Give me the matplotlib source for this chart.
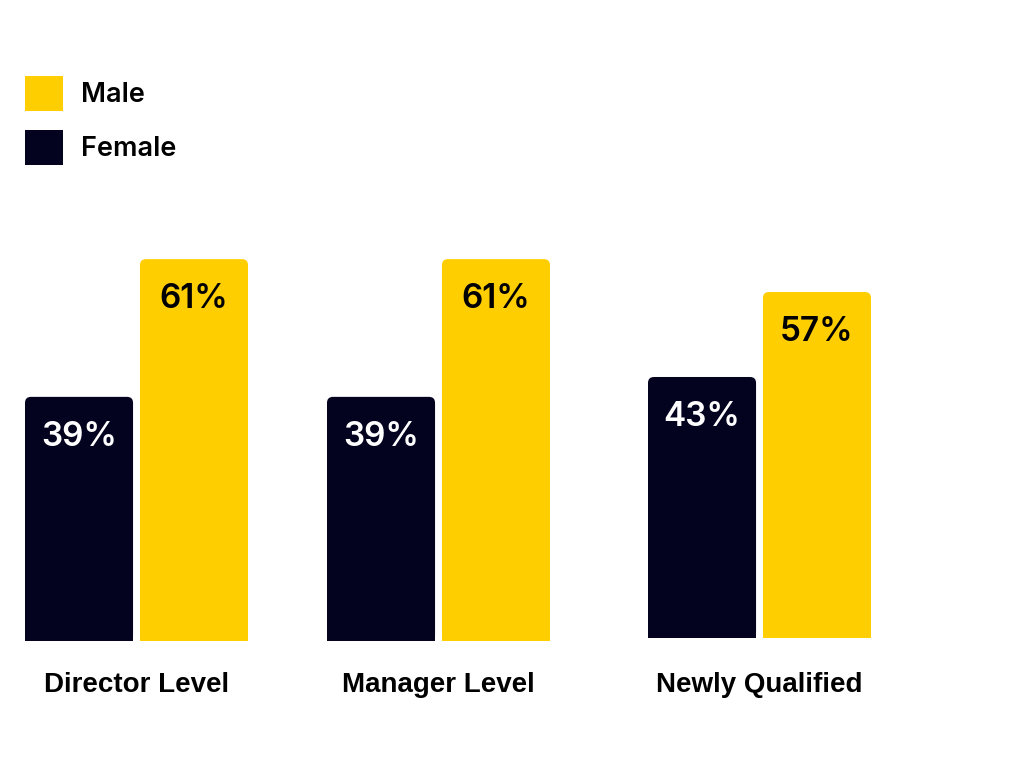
import matplotlib
matplotlib.use("Agg")
import matplotlib.pyplot as plt
from matplotlib.patches import FancyBboxPatch, Rectangle, Patch

categories = ["Director Level", "Manager Level", "Newly Qualified"]
female = [39, 39, 43]
male = [61, 61, 57]

NAVY = "#03021f"
YELLOW = "#ffce00"
W, H = 1024, 768
PT = 100 / 72  # pixels per point

fig = plt.figure(figsize=(W / 100, H / 100), dpi=100)

# axes boxes in pixels: left, baseline, right, pixel height of 100%
boxes = [(25, 641, 248, 626), (327, 641, 550, 626), (648, 638, 871, 607)]
label_y = 685


def rounded_bar(ax, bar, color, radius_px=6):
    bar.set_visible(False)
    x, w, h = bar.get_x(), bar.get_width(), bar.get_height()
    # pixel scale of each data unit
    p0 = ax.transData.transform((0, 0))
    p1 = ax.transData.transform((1, 1))
    sx, sy = p1[0] - p0[0], p1[1] - p0[1]
    r = radius_px / sx
    aspect = sx / sy
    ax.add_patch(FancyBboxPatch((x, 0), w, h,
                                boxstyle=f"round,pad=0,rounding_size={r}",
                                mutation_aspect=aspect, fc=color, ec="none"))
    ax.add_patch(Rectangle((x, 0), w, h / 2, fc=color, ec="none"))


for (left, base, right, full), cat, f, m in zip(boxes, categories, female, male):
    ax = fig.add_axes([left / W, (H - base) / H, (right - left) / W, full / H])
    ax.set_xlim(-0.47, 1.47)
    ax.set_ylim(0, 100)
    ax.axis("off")
    bars = ax.bar([0, 1], [f, m], width=0.94, color=[NAVY, YELLOW])
    rounded_bar(ax, bars[0], NAVY)
    rounded_bar(ax, bars[1], YELLOW)
    for b, v, tc in zip(bars, [f, m], ["white", "black"]):
        ax.annotate(f"{v}%", (b.get_x() + b.get_width() / 2, v),
                    xytext=(0, -29), textcoords="offset points",
                    ha="center", va="center", color=tc, fontsize=24,
                    fontweight="semibold", family="Inter")
    ax.annotate(cat, (0.5, 0), xycoords=("data", "axes fraction"),
                xytext=(0, -(label_y - base) / PT), textcoords="offset points",
                ha="center", va="center", fontsize=20, fontweight="bold",
                family="Liberation Sans", color="black")

handles = [Patch(fc=YELLOW, ec="none"), Patch(fc=NAVY, ec="none")]
fig.legend(handles, ["Male", "Female"], loc="upper left",
           bbox_to_anchor=(25 / W, 1 - 76 / H), frameon=False,
           borderpad=0, borderaxespad=0, handlelength=1.4, handleheight=1.6,
           labelspacing=0.7, handletextpad=0.65,
           prop={"family": "Inter", "weight": "semibold", "size": 19.5})

fig.savefig("out.png", dpi=100, facecolor="white")
